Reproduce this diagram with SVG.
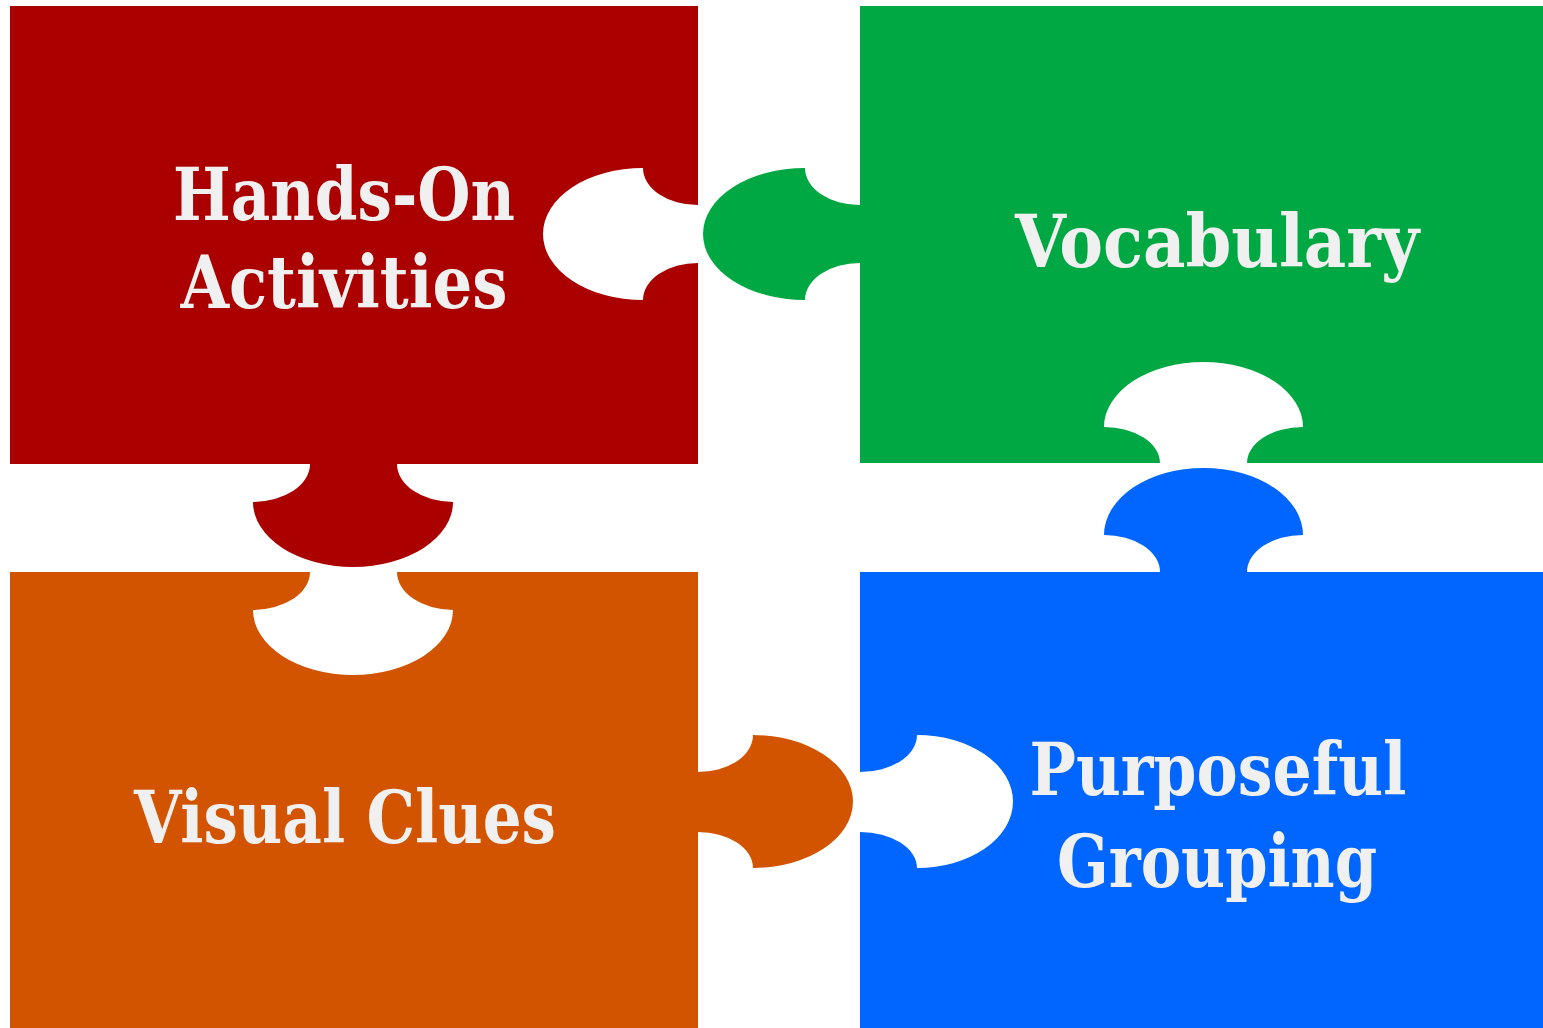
<svg xmlns="http://www.w3.org/2000/svg" width="1543" height="1028" viewBox="0 0 1543 1028">
  <style>
    .label { font-family: "DejaVu Serif", "Liberation Serif", serif; font-weight: bold; font-stretch: condensed; font-size: 72px; fill: #F0F0F0; text-anchor: middle; }
  </style>
  <rect width="1543" height="1028" fill="#FFFFFF"/>

  <!-- Top-left piece: slot on the right, tab on the bottom -->
  <g id="hands-on">
    <path fill="#AA0000" d="M10,6 H698 V205 A55,37 0 0 1 643,168 A100,66 0 0 0 643,300 A55,37 0 0 1 698,263 V464 H397 A56,38 0 0 0 453,502 A100,65 0 0 1 253,502 A57,38 0 0 0 310,464 H10 Z"/>
    <text class="label" x="344" y="220" textLength="342" lengthAdjust="spacingAndGlyphs">Hands-On</text>
    <text class="label" x="344" y="308" textLength="327" lengthAdjust="spacingAndGlyphs">Activities</text>
  </g>

  <!-- Top-right piece: tab on the left, slot on the bottom -->
  <g id="vocabulary">
    <path fill="#00A843" d="M860,6 H1543 V463 H1247 A56,36 0 0 1 1303,427 A99.5,65 0 0 0 1104,427 A56,36 0 0 1 1160,463 H860 V263 A55,37 0 0 0 805,300 A102,66 0 0 1 805,168 A55,37 0 0 0 860,205 Z"/>
    <text class="label" x="1217" y="267" textLength="404" lengthAdjust="spacingAndGlyphs">Vocabulary</text>
  </g>

  <!-- Bottom-left piece: slot on the top, tab on the right -->
  <g id="visual-clues">
    <path fill="#D35400" d="M10,572 H310 A57,38 0 0 1 253,610 A100,65 0 0 0 453,610 A56,38 0 0 1 397,572 H698 V772 A55,37 0 0 0 753,735 A100,66.5 0 0 1 753,868 A55,36 0 0 0 698,832 V1028 H10 Z"/>
    <text class="label" x="345" y="843" textLength="422" lengthAdjust="spacingAndGlyphs">Visual Clues</text>
  </g>

  <!-- Bottom-right piece: tab on the top, slot on the left -->
  <g id="purposeful-grouping">
    <path fill="#0066FF" d="M860,572 H1160 A56,37 0 0 0 1104,535 A99.5,67 0 0 1 1303,535 A56,37 0 0 0 1247,572 H1543 V1028 H860 V832 A57,36 0 0 1 917,868 A96,66.5 0 0 0 917,735 A57,37 0 0 1 860,772 Z"/>
    <text class="label" x="1218" y="795" textLength="377" lengthAdjust="spacingAndGlyphs">Purposeful</text>
    <text class="label" x="1217" y="887" textLength="320" lengthAdjust="spacingAndGlyphs">Grouping</text>
  </g>

  <g id="connectors"/>
</svg>
